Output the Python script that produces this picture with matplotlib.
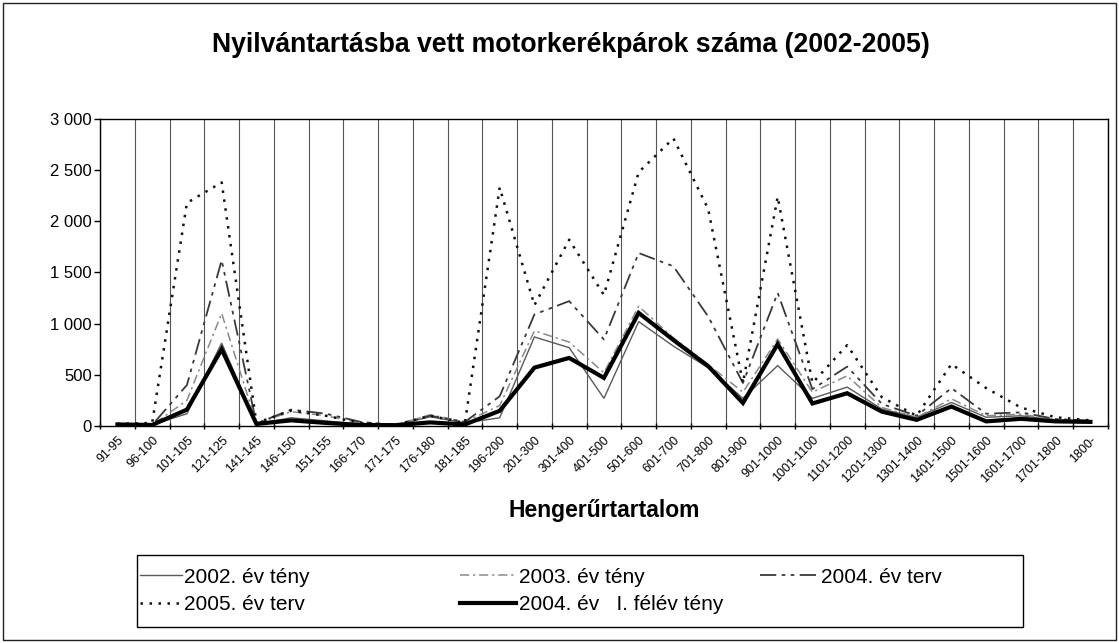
import matplotlib
matplotlib.use("Agg")
import matplotlib.pyplot as plt
from matplotlib.patches import Rectangle
import numpy as np

plt.rcParams['font.family'] = ['Liberation Sans', 'DejaVu Sans']

categories = ["91-95", "96-100", "101-105", "121-125", "141-145", "146-150", "151-155",
              "166-170", "171-175", "176-180", "181-185", "196-200", "201-300", "301-400",
              "401-500", "501-600", "601-700", "701-800", "801-900", "901-1000",
              "1001-1100", "1101-1200", "1201-1300", "1301-1400", "1401-1500",
              "1501-1600", "1601-1700", "1701-1800", "1800-"]

teny_2002 = [20, 10, 120, 810, 20, 80, 50, 15, 8, 90, 30, 80, 870, 765, 270, 1020, 780,
             570, 270, 590, 270, 380, 165, 85, 230, 85, 100, 60, 45]
teny_2003 = [20, 10, 250, 1100, 25, 140, 100, 30, 10, 110, 40, 200, 930, 820, 520, 1170,
             860, 600, 330, 850, 330, 490, 180, 85, 265, 100, 115, 60, 45]
terv_2004 = [15, 10, 400, 1620, 25, 160, 120, 40, 10, 100, 40, 290, 1090, 1220, 845, 1690,
             1560, 1070, 420, 1300, 360, 580, 215, 100, 370, 120, 133, 68, 52]
terv_2005 = [20, 30, 2180, 2380, 30, 150, 100, 30, 10, 100, 30, 2330, 1180, 1820, 1280,
             2480, 2810, 2120, 420, 2240, 420, 790, 280, 100, 605, 370, 180, 85, 55]
felev_2004 = [15, 10, 160, 750, 20, 55, 30, 10, 8, 35, 15, 148, 570, 665, 470, 1105, 840,
              585, 225, 800, 220, 320, 140, 60, 190, 45, 70, 45, 40]

y_ticks = [0, 500, 1000, 1500, 2000, 2500, 3000]
series_labels = ["2002. év tény", "2003. év tény", "2004. év terv", "2005. év terv",
                 "2004. év   I. félév tény"]

fig = plt.figure(figsize=(11.19, 6.43), dpi=100)
fig.patches.append(Rectangle((0.003, 0.004), 0.994, 0.992, transform=fig.transFigure,
                             fill=False, edgecolor='#222222', linewidth=1.0))

ax = fig.add_axes([0.0894, 0.3375, 0.9006, 0.4775])
n = len(categories)
x = np.arange(n) + 0.5

styles = [
    dict(color='#5a5a5a', linewidth=1.0, linestyle='-'),
    dict(color='#8a8a8a', linewidth=1.1, linestyle=(0, (6, 2.5, 1.5, 2.5))),
    dict(color='#3a3a3a', linewidth=1.3, linestyle=(0, (9, 3, 2, 3, 2, 3))),
    dict(color='#111111', linewidth=1.8, linestyle=(0, (1, 2.6))),
    dict(color='#000000', linewidth=3.0, linestyle='-'),
]
data = [teny_2002, teny_2003, terv_2004, terv_2005, felev_2004]
handles = []
for d, st, lab in zip(data, styles, series_labels):
    h, = ax.plot(x, d, label=lab, solid_joinstyle='miter', **st)
    handles.append(h)

ax.set_xlim(0, n)
ax.set_ylim(0, 3000)
ax.set_xticks(np.arange(0, n + 1))
ax.set_xticklabels([])
ax.set_xticks(x, minor=True)
ax.set_xticklabels(categories, minor=True, rotation=45, ha='right', va='top',
                   rotation_mode='anchor', fontsize=9)
ax.tick_params(axis='x', which='minor', length=0, pad=6)
ax.tick_params(axis='x', which='major', length=5, direction='inout', width=1)
ax.grid(axis='x', which='major', color='#555555', linewidth=0.8)
ax.set_yticks(y_ticks)
ax.set_yticklabels([f"{v:,}".replace(",", " ") for v in y_ticks], fontsize=12)
ax.tick_params(axis='y', length=4, direction='out', width=1, pad=2)
for s in ax.spines.values():
    s.set_color('black')
    s.set_linewidth(1.0)

ax.set_xlabel("Hengerűrtartalom", fontsize=16.5, fontweight='bold', labelpad=10)
fig.text(0.51, 0.93, "Nyilvántartásba vett motorkerékpárok száma (2002-2005)",
         ha='center', va='center', fontsize=19.2, fontweight='bold')

# legend box and three columns
fig.patches.append(Rectangle((0.1224, 0.0249), 0.7916, 0.1121, transform=fig.transFigure,
                             fill=False, edgecolor='black', linewidth=1.0))
columns = [([0, 3], 0.125, 2.0), ([1, 4], 0.411, 2.7), ([2], 0.679, 2.8)]
for idxs, x0, hl in columns:
    fig.legend([handles[i] for i in idxs], [series_labels[i] for i in idxs],
               loc='upper left', bbox_to_anchor=(x0, 0.117), frameon=False,
               borderpad=0, borderaxespad=0, handlelength=hl, handletextpad=0.12,
               labelspacing=0.4, prop={'size': 15})

fig.savefig("out.png", dpi=100)
